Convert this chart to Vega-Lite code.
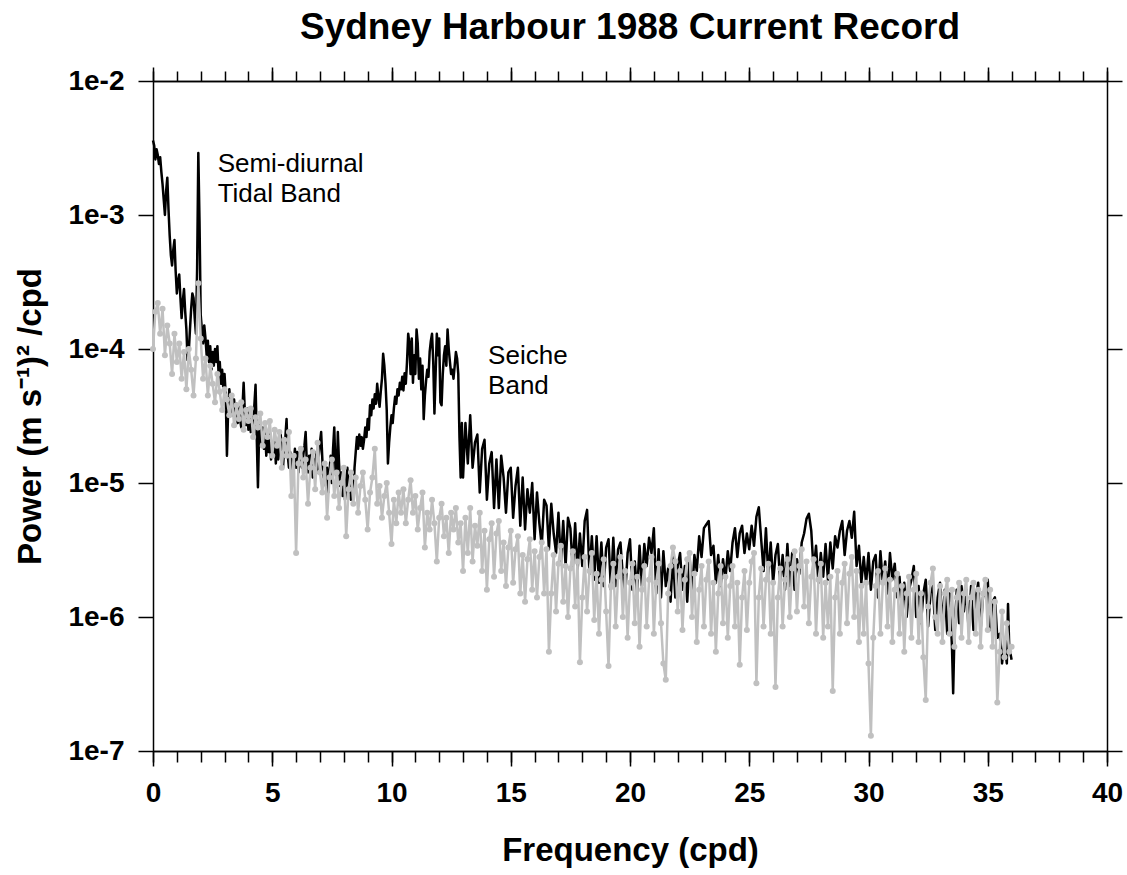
{
  "$schema": "https://vega.github.io/schema/vega-lite/v6.json",
  "width": 954,
  "height": 670,
  "autosize": {"type": "none"},
  "padding": {"left": 153, "top": 81, "right": 20, "bottom": 124},
  "background": "white",
  "title": {
    "text": "Sydney Harbour 1988 Current Record",
    "font": "Liberation Sans",
    "fontSize": 37,
    "fontWeight": "bold",
    "color": "black",
    "anchor": "middle",
    "frame": "group",
    "offset": 19
  },
  "config": {
    "view": {"stroke": null},
    "font": "Liberation Sans",
    "axis": {
      "grid": false,
      "domainColor": "black",
      "domainWidth": 1.5,
      "tickColor": "black",
      "tickWidth": 1.5,
      "labelColor": "black",
      "labelFont": "Liberation Sans",
      "labelFontWeight": "bold",
      "labelFontSize": 28,
      "titleColor": "black",
      "titleFont": "Liberation Sans",
      "titleFontWeight": "bold",
      "titleFontSize": 33,
      "labelFlush": false,
      "labelOverlap": false,
      "labelBound": false
    }
  },
  "datasets": {
    "spectrum": [
      {"f":0.0,"p":3.6e-3},{"f":0.05,"p":3.3e-3},{"f":0.1,"p":2.6e-3},{"f":0.15,"p":3.1e-3},{"f":0.2,"p":2.8e-3},
      {"f":0.25,"p":2.4e-3},{"f":0.3,"p":2.7e-3},{"f":0.35,"p":2.1e-3},{"f":0.4,"p":1.7e-3},{"f":0.45,"p":1.3e-3},
      {"f":0.5,"p":1.0e-3},{"f":0.55,"p":1.5e-3},{"f":0.6,"p":1.9e-3},{"f":0.65,"p":1.1e-3},{"f":0.7,"p":7.0e-4},
      {"f":0.75,"p":5.0e-4},{"f":0.8,"p":4.2e-4},{"f":0.85,"p":5.5e-4},{"f":0.9,"p":6.5e-4},{"f":0.95,"p":3.8e-4},
      {"f":1.0,"p":2.6e-4},{"f":1.05,"p":3.2e-4},{"f":1.1,"p":3.6e-4},{"f":1.15,"p":2.4e-4},{"f":1.2,"p":1.7e-4},
      {"f":1.25,"p":2.3e-4},{"f":1.3,"p":2.8e-4},{"f":1.35,"p":1.9e-4},{"f":1.4,"p":1.4e-4},{"f":1.45,"p":8.3e-5},
      {"f":1.5,"p":9.5e-5},{"f":1.55,"p":1.4e-4},{"f":1.6,"p":2.0e-4},{"f":1.65,"p":2.6e-4},{"f":1.7,"p":2.4e-4},
      {"f":1.75,"p":1.7e-4},{"f":1.8,"p":1.3e-4},{"f":1.85,"p":4.0e-4},{"f":1.9,"p":2.9e-3},{"f":1.95,"p":9.0e-4},
      {"f":2.0,"p":1.8e-4},{"f":2.05,"p":1.4e-4},{"f":2.1,"p":1.1e-4},{"f":2.15,"p":1.5e-4},{"f":2.2,"p":1.2e-4},
      {"f":2.25,"p":9.0e-5},{"f":2.3,"p":1.15e-4},{"f":2.35,"p":8.0e-5},{"f":2.4,"p":1.05e-4},{"f":2.45,"p":7.0e-5},
      {"f":2.5,"p":9.5e-5},{"f":2.55,"p":7.5e-5},{"f":2.6,"p":1.0e-4},{"f":2.65,"p":8.0e-5},{"f":2.7,"p":1.05e-4},
      {"f":2.75,"p":6.5e-5},{"f":2.8,"p":8.0e-5},{"f":2.85,"p":5.5e-5},{"f":2.9,"p":7.0e-5},{"f":2.95,"p":5.0e-5},
      {"f":3.0,"p":6.5e-5},{"f":3.05,"p":4.5e-5},{"f":3.1,"p":1.6e-5},{"f":3.15,"p":3.5e-5},{"f":3.2,"p":5.0e-5},
      {"f":3.25,"p":3.8e-5},{"f":3.3,"p":4.6e-5},{"f":3.35,"p":3.2e-5},{"f":3.4,"p":4.2e-5},{"f":3.45,"p":3.0e-5},
      {"f":3.5,"p":3.9e-5},{"f":3.55,"p":2.8e-5},{"f":3.6,"p":3.7e-5},{"f":3.65,"p":3.0e-5},{"f":3.7,"p":2.6e-5},
      {"f":3.75,"p":3.6e-5},{"f":3.8,"p":5.6e-5},{"f":3.85,"p":3.4e-5},{"f":3.9,"p":2.7e-5},{"f":3.95,"p":3.6e-5},
      {"f":4.0,"p":2.5e-5},{"f":4.05,"p":3.3e-5},{"f":4.1,"p":2.4e-5},{"f":4.15,"p":3.1e-5},{"f":4.2,"p":2.6e-5},
      {"f":4.25,"p":3.8e-5},{"f":4.3,"p":5.4e-5},{"f":4.35,"p":2.2e-5},{"f":4.4,"p":9.3e-6},{"f":4.45,"p":2.4e-5},
      {"f":4.5,"p":2.9e-5},{"f":4.55,"p":2.0e-5},{"f":4.6,"p":2.6e-5},{"f":4.65,"p":1.8e-5},{"f":4.7,"p":2.4e-5},
      {"f":4.75,"p":1.6e-5},{"f":4.8,"p":2.2e-5},{"f":4.85,"p":1.7e-5},{"f":4.9,"p":2.3e-5},{"f":4.95,"p":1.5e-5},
      {"f":5.0,"p":2.0e-5},{"f":5.05,"p":1.6e-5},{"f":5.1,"p":2.2e-5},{"f":5.15,"p":1.4e-5},{"f":5.2,"p":1.9e-5},
      {"f":5.25,"p":1.5e-5},{"f":5.3,"p":1.8e-5},{"f":5.35,"p":2.4e-5},{"f":5.4,"p":1.6e-5},{"f":5.45,"p":1.3e-5},
      {"f":5.5,"p":1.8e-5},{"f":5.55,"p":2.2e-5},{"f":5.6,"p":3.0e-5},{"f":5.65,"p":1.6e-5},{"f":5.7,"p":1.3e-5},
      {"f":5.75,"p":1.7e-5},{"f":5.8,"p":1.2e-5},{"f":5.85,"p":1.6e-5},{"f":5.9,"p":1.4e-5},{"f":5.95,"p":1.8e-5},
      {"f":6.0,"p":1.3e-5},{"f":6.05,"p":1.7e-5},{"f":6.1,"p":1.2e-5},{"f":6.15,"p":1.5e-5},{"f":6.2,"p":1.7e-5},
      {"f":6.25,"p":1.3e-5},{"f":6.3,"p":1.6e-5},{"f":6.35,"p":1.9e-5},{"f":6.4,"p":2.4e-5},{"f":6.45,"p":1.4e-5},
      {"f":6.5,"p":1.2e-5},{"f":6.55,"p":1.6e-5},{"f":6.6,"p":1.3e-5},{"f":6.65,"p":1.8e-5},{"f":6.7,"p":1.1e-5},
      {"f":6.75,"p":1.5e-5},{"f":6.8,"p":1.3e-5},{"f":6.85,"p":1.7e-5},{"f":6.9,"p":1.2e-5},{"f":6.95,"p":1.6e-5},
      {"f":7.0,"p":2.0e-5},{"f":7.05,"p":2.4e-5},{"f":7.1,"p":1.5e-5},{"f":7.15,"p":1.1e-5},{"f":7.2,"p":1.4e-5},
      {"f":7.25,"p":9.5e-6},{"f":7.3,"p":1.3e-5},{"f":7.35,"p":8.5e-6},{"f":7.4,"p":1.2e-5},{"f":7.45,"p":1.6e-5},
      {"f":7.5,"p":1.0e-5},{"f":7.55,"p":1.8e-5},{"f":7.6,"p":2.6e-5},{"f":7.65,"p":1.3e-5},{"f":7.7,"p":1.0e-5},
      {"f":7.75,"p":2.4e-5},{"f":7.8,"p":1.4e-5},{"f":7.85,"p":9.5e-6},{"f":7.9,"p":1.2e-5},{"f":7.95,"p":8.0e-6},
      {"f":8.0,"p":1.1e-5},{"f":8.05,"p":7.5e-6},{"f":8.1,"p":1.0e-5},{"f":8.15,"p":1.3e-5},{"f":8.2,"p":8.5e-6},
      {"f":8.25,"p":1.1e-5},{"f":8.3,"p":7.5e-6},{"f":8.35,"p":1.0e-5},{"f":8.4,"p":8.0e-6},{"f":8.45,"p":1.3e-5},
      {"f":8.5,"p":1.7e-5},{"f":8.55,"p":2.2e-5},{"f":8.6,"p":1.8e-5},{"f":8.65,"p":2.3e-5},{"f":8.7,"p":1.9e-5},
      {"f":8.75,"p":2.2e-5},{"f":8.8,"p":1.8e-5},{"f":8.85,"p":2.1e-5},{"f":8.9,"p":2.6e-5},{"f":8.95,"p":2.2e-5},
      {"f":9.0,"p":3.0e-5},{"f":9.05,"p":2.5e-5},{"f":9.1,"p":3.8e-5},{"f":9.15,"p":3.2e-5},{"f":9.2,"p":4.2e-5},
      {"f":9.25,"p":3.6e-5},{"f":9.3,"p":4.6e-5},{"f":9.35,"p":3.9e-5},{"f":9.4,"p":5.5e-5},{"f":9.45,"p":4.4e-5},
      {"f":9.5,"p":3.7e-5},{"f":9.55,"p":4.8e-5},{"f":9.6,"p":6.0e-5},{"f":9.65,"p":9.2e-5},{"f":9.7,"p":7.5e-5},
      {"f":9.75,"p":5.5e-5},{"f":9.8,"p":3.5e-5},{"f":9.85,"p":1.4e-5},{"f":9.9,"p":2.0e-5},{"f":9.95,"p":2.6e-5},
      {"f":10.0,"p":3.2e-5},{"f":10.05,"p":2.8e-5},{"f":10.1,"p":3.6e-5},{"f":10.15,"p":4.4e-5},{"f":10.2,"p":3.9e-5},
      {"f":10.25,"p":5.0e-5},{"f":10.3,"p":4.5e-5},{"f":10.35,"p":5.6e-5},{"f":10.4,"p":5.0e-5},{"f":10.45,"p":6.2e-5},
      {"f":10.5,"p":4.9e-5},{"f":10.55,"p":6.6e-5},{"f":10.6,"p":5.5e-5},{"f":10.65,"p":8.0e-5},{"f":10.7,"p":1.3e-4},
      {"f":10.75,"p":1.1e-4},{"f":10.8,"p":6.5e-5},{"f":10.85,"p":1.2e-4},{"f":10.9,"p":5.6e-5},{"f":10.95,"p":9.0e-5},
      {"f":11.0,"p":6.5e-5},{"f":11.05,"p":1.4e-4},{"f":11.1,"p":1.1e-4},{"f":11.15,"p":6.0e-5},{"f":11.2,"p":8.5e-5},
      {"f":11.25,"p":5.0e-5},{"f":11.3,"p":7.5e-5},{"f":11.35,"p":3.0e-5},{"f":11.4,"p":4.5e-5},{"f":11.45,"p":5.8e-5},
      {"f":11.5,"p":7.0e-5},{"f":11.55,"p":6.2e-5},{"f":11.6,"p":9.5e-5},{"f":11.65,"p":1.15e-4},{"f":11.7,"p":1.3e-4},
      {"f":11.75,"p":8.0e-5},{"f":11.8,"p":3.3e-5},{"f":11.85,"p":6.5e-5},{"f":11.9,"p":1.3e-4},{"f":11.95,"p":9.0e-5},
      {"f":12.0,"p":1.2e-4},{"f":12.05,"p":4.0e-5},{"f":12.1,"p":3.8e-5},{"f":12.15,"p":6.5e-5},{"f":12.2,"p":9.0e-5},
      {"f":12.25,"p":1.05e-4},{"f":12.3,"p":7.5e-5},{"f":12.35,"p":1.4e-4},{"f":12.4,"p":1.0e-4},{"f":12.45,"p":8.0e-5},
      {"f":12.5,"p":6.5e-5},{"f":12.55,"p":7.0e-5},{"f":12.6,"p":6.0e-5},{"f":12.65,"p":7.5e-5},{"f":12.7,"p":9.5e-5},
      {"f":12.75,"p":8.5e-5},{"f":12.8,"p":6.5e-5},{"f":12.85,"p":2.2e-5},{"f":12.9,"p":1.1e-5},{"f":12.95,"p":2.8e-5},
      {"f":13.0,"p":1.1e-5},{"f":13.1,"p":2.8e-5},{"f":13.2,"p":1.4e-5},{"f":13.3,"p":3.2e-5},{"f":13.4,"p":1.3e-5},
      {"f":13.5,"p":2.0e-5},{"f":13.6,"p":2.3e-5},{"f":13.7,"p":8.5e-6},{"f":13.8,"p":1.8e-5},{"f":13.9,"p":2.1e-5},
      {"f":14.0,"p":7.5e-6},{"f":14.1,"p":1.4e-5},{"f":14.2,"p":1.7e-5},{"f":14.3,"p":6.5e-6},{"f":14.4,"p":1.5e-5},
      {"f":14.5,"p":6.5e-6},{"f":14.6,"p":1.6e-5},{"f":14.7,"p":1.1e-5},{"f":14.8,"p":6.0e-6},{"f":14.9,"p":1.2e-5},
      {"f":15.0,"p":1.3e-5},{"f":15.1,"p":5.5e-6},{"f":15.2,"p":9.5e-6},{"f":15.3,"p":1.3e-5},{"f":15.4,"p":4.8e-6},
      {"f":15.5,"p":1.1e-5},{"f":15.6,"p":4.5e-6},{"f":15.7,"p":9.0e-6},{"f":15.8,"p":6.0e-6},{"f":15.9,"p":1.0e-5},
      {"f":16.0,"p":3.8e-6},{"f":16.1,"p":8.5e-6},{"f":16.2,"p":5.0e-6},{"f":16.3,"p":3.4e-6},{"f":16.4,"p":7.5e-6},
      {"f":16.5,"p":6.8e-6},{"f":16.6,"p":3.2e-6},{"f":16.7,"p":7.0e-6},{"f":16.8,"p":4.2e-6},{"f":16.9,"p":3.0e-6},
      {"f":17.0,"p":6.0e-6},{"f":17.1,"p":2.5e-6},{"f":17.2,"p":5.2e-6},{"f":17.3,"p":2.4e-6},{"f":17.4,"p":5.5e-6},
      {"f":17.5,"p":4.6e-6},{"f":17.6,"p":2.3e-6},{"f":17.7,"p":5.0e-6},{"f":17.8,"p":2.2e-6},{"f":17.9,"p":4.2e-6},
      {"f":18.0,"p":2.4e-6},{"f":18.1,"p":5.2e-6},{"f":18.2,"p":6.3e-6},{"f":18.3,"p":2.1e-6},{"f":18.4,"p":4.0e-6},
      {"f":18.5,"p":1.9e-6},{"f":18.6,"p":4.0e-6},{"f":18.7,"p":1.8e-6},{"f":18.8,"p":3.6e-6},{"f":18.9,"p":1.7e-6},
      {"f":19.0,"p":3.3e-6},{"f":19.1,"p":3.8e-6},{"f":19.2,"p":1.6e-6},{"f":19.3,"p":3.9e-6},{"f":19.4,"p":1.7e-6},
      {"f":19.5,"p":3.2e-6},{"f":19.6,"p":3.6e-6},{"f":19.7,"p":2.0e-6},{"f":19.8,"p":1.5e-6},{"f":19.9,"p":3.0e-6},
      {"f":20.0,"p":3.8e-6},{"f":20.1,"p":1.6e-6},{"f":20.2,"p":2.6e-6},{"f":20.3,"p":1.5e-6},{"f":20.4,"p":3.4e-6},
      {"f":20.5,"p":1.7e-6},{"f":20.6,"p":3.5e-6},{"f":20.7,"p":2.4e-6},{"f":20.8,"p":3.9e-6},{"f":20.9,"p":3.0e-6},
      {"f":21.0,"p":4.6e-6},{"f":21.1,"p":1.5e-6},{"f":21.2,"p":3.2e-6},{"f":21.3,"p":1.4e-6},{"f":21.4,"p":3.1e-6},
      {"f":21.5,"p":1.7e-6},{"f":21.6,"p":2.3e-6},{"f":21.7,"p":1.3e-6},{"f":21.8,"p":2.9e-6},{"f":21.9,"p":1.4e-6},
      {"f":22.0,"p":2.4e-6},{"f":22.1,"p":3.0e-6},{"f":22.2,"p":1.6e-6},{"f":22.3,"p":2.4e-6},{"f":22.4,"p":1.3e-6},
      {"f":22.5,"p":2.8e-6},{"f":22.6,"p":1.4e-6},{"f":22.7,"p":2.9e-6},{"f":22.8,"p":2.2e-6},{"f":22.9,"p":4.0e-6},
      {"f":23.0,"p":2.8e-6},{"f":23.1,"p":4.6e-6},{"f":23.2,"p":4.9e-6},{"f":23.3,"p":5.2e-6},{"f":23.4,"p":2.9e-6},
      {"f":23.5,"p":3.4e-6},{"f":23.6,"p":1.8e-6},{"f":23.7,"p":2.9e-6},{"f":23.8,"p":1.7e-6},{"f":23.9,"p":2.7e-6},
      {"f":24.0,"p":1.9e-6},{"f":24.1,"p":3.1e-6},{"f":24.2,"p":2.2e-6},{"f":24.3,"p":3.6e-6},{"f":24.4,"p":4.6e-6},
      {"f":24.5,"p":2.8e-6},{"f":24.6,"p":4.2e-6},{"f":24.7,"p":4.8e-6},{"f":24.8,"p":3.0e-6},{"f":24.9,"p":4.2e-6},
      {"f":25.0,"p":3.2e-6},{"f":25.1,"p":4.8e-6},{"f":25.2,"p":3.4e-6},{"f":25.3,"p":5.6e-6},{"f":25.4,"p":6.6e-6},
      {"f":25.5,"p":3.8e-6},{"f":25.6,"p":2.2e-6},{"f":25.7,"p":4.6e-6},{"f":25.8,"p":2.0e-6},{"f":25.9,"p":3.6e-6},
      {"f":26.0,"p":1.8e-6},{"f":26.1,"p":2.9e-6},{"f":26.2,"p":3.5e-6},{"f":26.3,"p":1.8e-6},{"f":26.4,"p":2.9e-6},
      {"f":26.5,"p":1.6e-6},{"f":26.6,"p":3.5e-6},{"f":26.7,"p":1.7e-6},{"f":26.8,"p":3.0e-6},{"f":26.9,"p":1.6e-6},
      {"f":27.0,"p":2.7e-6},{"f":27.1,"p":2.1e-6},{"f":27.2,"p":3.6e-6},{"f":27.3,"p":4.2e-6},{"f":27.4,"p":5.4e-6},
      {"f":27.5,"p":5.9e-6},{"f":27.6,"p":4.4e-6},{"f":27.7,"p":2.2e-6},{"f":27.8,"p":3.4e-6},{"f":27.9,"p":1.8e-6},
      {"f":28.0,"p":3.0e-6},{"f":28.1,"p":2.0e-6},{"f":28.2,"p":3.5e-6},{"f":28.3,"p":1.9e-6},{"f":28.4,"p":3.6e-6},
      {"f":28.5,"p":2.3e-6},{"f":28.6,"p":4.0e-6},{"f":28.7,"p":3.3e-6},{"f":28.8,"p":4.4e-6},{"f":28.9,"p":5.2e-6},
      {"f":29.0,"p":2.9e-6},{"f":29.1,"p":4.4e-6},{"f":29.2,"p":5.2e-6},{"f":29.3,"p":3.9e-6},{"f":29.4,"p":6.1e-6},
      {"f":29.5,"p":2.4e-6},{"f":29.6,"p":3.4e-6},{"f":29.7,"p":1.8e-6},{"f":29.8,"p":2.8e-6},{"f":29.9,"p":1.8e-6},
      {"f":30.0,"p":3.0e-6},{"f":30.1,"p":1.6e-6},{"f":30.2,"p":2.6e-6},{"f":30.3,"p":2.9e-6},{"f":30.4,"p":1.4e-6},
      {"f":30.5,"p":3.1e-6},{"f":30.6,"p":1.8e-6},{"f":30.7,"p":2.6e-6},{"f":30.8,"p":1.5e-6},{"f":30.9,"p":3.0e-6},
      {"f":31.0,"p":1.9e-6},{"f":31.1,"p":2.5e-6},{"f":31.2,"p":1.4e-6},{"f":31.3,"p":2.0e-6},{"f":31.4,"p":1.1e-6},
      {"f":31.5,"p":1.8e-6},{"f":31.6,"p":1.0e-6},{"f":31.7,"p":1.6e-6},{"f":31.8,"p":1.9e-6},{"f":31.9,"p":2.4e-6},
      {"f":32.0,"p":1.0e-6},{"f":32.1,"p":1.7e-6},{"f":32.2,"p":9.0e-7},{"f":32.3,"p":1.5e-6},{"f":32.4,"p":1.9e-6},
      {"f":32.5,"p":8.5e-7},{"f":32.6,"p":1.5e-6},{"f":32.7,"p":1.7e-6},{"f":32.8,"p":8.0e-7},{"f":32.9,"p":1.4e-6},
      {"f":33.0,"p":1.8e-6},{"f":33.1,"p":8.5e-7},{"f":33.2,"p":1.6e-6},{"f":33.3,"p":7.5e-7},{"f":33.4,"p":1.5e-6},
      {"f":33.5,"p":6.0e-7},{"f":33.55,"p":2.7e-7},{"f":33.6,"p":7.0e-7},{"f":33.7,"p":1.6e-6},{"f":33.8,"p":9.0e-7},
      {"f":33.9,"p":1.7e-6},{"f":34.0,"p":1.1e-6},{"f":34.1,"p":1.6e-6},{"f":34.2,"p":8.0e-7},{"f":34.3,"p":1.7e-6},
      {"f":34.4,"p":8.0e-7},{"f":34.5,"p":1.4e-6},{"f":34.6,"p":1.8e-6},{"f":34.7,"p":8.0e-7},{"f":34.8,"p":1.4e-6},
      {"f":34.9,"p":1.7e-6},{"f":35.0,"p":1.9e-6},{"f":35.1,"p":8.0e-7},{"f":35.2,"p":1.3e-6},{"f":35.3,"p":1.4e-6},
      {"f":35.4,"p":7.0e-7},{"f":35.5,"p":7.5e-7},{"f":35.6,"p":4.5e-7},{"f":35.7,"p":6.5e-7},{"f":35.8,"p":4.5e-7},
      {"f":35.85,"p":1.25e-6},{"f":35.9,"p":6.0e-7},{"f":36.0,"p":4.8e-7}
    ],
    "background": [
      {"f":0.0,"p":1.0e-4},{"f":0.1,"p":1.9e-4},{"f":0.2,"p":2.2e-4},{"f":0.3,"p":1.3e-4},{"f":0.4,"p":2.0e-4},
      {"f":0.5,"p":9.0e-5},{"f":0.6,"p":1.5e-4},{"f":0.7,"p":1.1e-4},{"f":0.8,"p":6.5e-5},{"f":0.9,"p":1.3e-4},
      {"f":1.0,"p":8.0e-5},{"f":1.1,"p":1.1e-4},{"f":1.2,"p":6.0e-5},{"f":1.3,"p":9.5e-5},{"f":1.4,"p":5.0e-5},
      {"f":1.5,"p":1.0e-4},{"f":1.6,"p":7.0e-5},{"f":1.7,"p":4.5e-5},{"f":1.8,"p":8.5e-5},{"f":1.9,"p":3.1e-4},
      {"f":2.0,"p":1.2e-4},{"f":2.1,"p":6.0e-5},{"f":2.2,"p":8.5e-5},{"f":2.3,"p":4.5e-5},{"f":2.4,"p":7.5e-5},
      {"f":2.5,"p":5.5e-5},{"f":2.6,"p":4.0e-5},{"f":2.7,"p":6.5e-5},{"f":2.8,"p":4.8e-5},{"f":2.9,"p":3.5e-5},
      {"f":3.0,"p":5.0e-5},{"f":3.1,"p":4.2e-5},{"f":3.2,"p":3.2e-5},{"f":3.3,"p":4.5e-5},{"f":3.4,"p":2.7e-5},
      {"f":3.5,"p":3.8e-5},{"f":3.6,"p":3.0e-5},{"f":3.7,"p":4.0e-5},{"f":3.8,"p":2.5e-5},{"f":3.9,"p":3.5e-5},
      {"f":4.0,"p":2.9e-5},{"f":4.1,"p":3.6e-5},{"f":4.2,"p":2.2e-5},{"f":4.3,"p":3.1e-5},{"f":4.4,"p":2.6e-5},
      {"f":4.5,"p":3.3e-5},{"f":4.6,"p":1.9e-5},{"f":4.7,"p":2.8e-5},{"f":4.8,"p":2.2e-5},{"f":4.9,"p":2.9e-5},
      {"f":5.0,"p":1.6e-5},{"f":5.1,"p":2.5e-5},{"f":5.2,"p":1.9e-5},{"f":5.3,"p":2.4e-5},{"f":5.4,"p":1.3e-5},
      {"f":5.5,"p":2.1e-5},{"f":5.6,"p":1.6e-5},{"f":5.7,"p":2.4e-5},{"f":5.8,"p":8.0e-6},{"f":5.9,"p":1.6e-5},
      {"f":6.0,"p":3.0e-6},{"f":6.1,"p":1.4e-5},{"f":6.2,"p":1.8e-5},{"f":6.3,"p":1.1e-5},{"f":6.4,"p":1.5e-5},
      {"f":6.5,"p":7.0e-6},{"f":6.6,"p":1.3e-5},{"f":6.7,"p":1.7e-5},{"f":6.8,"p":9.0e-6},{"f":6.9,"p":2.0e-5},
      {"f":7.0,"p":1.2e-5},{"f":7.1,"p":8.5e-6},{"f":7.2,"p":1.4e-5},{"f":7.3,"p":5.5e-6},{"f":7.4,"p":1.1e-5},
      {"f":7.5,"p":1.5e-5},{"f":7.6,"p":8.0e-6},{"f":7.7,"p":1.2e-5},{"f":7.8,"p":6.5e-6},{"f":7.9,"p":1.0e-5},
      {"f":8.0,"p":1.3e-5},{"f":8.1,"p":4.0e-6},{"f":8.2,"p":9.0e-6},{"f":8.3,"p":1.2e-5},{"f":8.4,"p":7.0e-6},
      {"f":8.5,"p":1.1e-5},{"f":8.6,"p":6.0e-6},{"f":8.7,"p":9.5e-6},{"f":8.8,"p":1.2e-5},{"f":8.9,"p":7.5e-6},
      {"f":9.0,"p":4.5e-6},{"f":9.1,"p":8.5e-6},{"f":9.2,"p":1.1e-5},{"f":9.3,"p":1.8e-5},{"f":9.4,"p":7.0e-6},
      {"f":9.5,"p":9.5e-6},{"f":9.6,"p":5.5e-6},{"f":9.7,"p":8.0e-6},{"f":9.8,"p":1.0e-5},{"f":9.9,"p":6.0e-6},
      {"f":10.0,"p":3.5e-6},{"f":10.1,"p":7.5e-6},{"f":10.2,"p":5.0e-6},{"f":10.3,"p":8.5e-6},{"f":10.4,"p":6.0e-6},
      {"f":10.5,"p":9.0e-6},{"f":10.6,"p":5.0e-6},{"f":10.7,"p":7.5e-6},{"f":10.8,"p":1.05e-5},{"f":10.9,"p":6.0e-6},
      {"f":11.0,"p":8.0e-6},{"f":11.1,"p":4.5e-6},{"f":11.2,"p":6.5e-6},{"f":11.3,"p":8.5e-6},{"f":11.4,"p":3.3e-6},
      {"f":11.5,"p":6.0e-6},{"f":11.6,"p":4.5e-6},{"f":11.7,"p":7.5e-6},{"f":11.8,"p":5.0e-6},{"f":11.9,"p":2.6e-6},
      {"f":12.0,"p":5.5e-6},{"f":12.1,"p":7.0e-6},{"f":12.2,"p":4.0e-6},{"f":12.3,"p":5.5e-6},{"f":12.4,"p":3.0e-6},
      {"f":12.5,"p":6.0e-6},{"f":12.6,"p":4.5e-6},{"f":12.7,"p":6.5e-6},{"f":12.8,"p":3.6e-6},{"f":12.9,"p":5.0e-6},
      {"f":13.0,"p":2.2e-6},{"f":13.1,"p":5.5e-6},{"f":13.2,"p":3.0e-6},{"f":13.3,"p":6.5e-6},{"f":13.4,"p":2.6e-6},
      {"f":13.5,"p":4.8e-6},{"f":13.6,"p":3.4e-6},{"f":13.7,"p":6.0e-6},{"f":13.8,"p":2.2e-6},{"f":13.9,"p":4.4e-6},
      {"f":14.0,"p":1.6e-6},{"f":14.1,"p":3.8e-6},{"f":14.2,"p":5.0e-6},{"f":14.3,"p":2.0e-6},{"f":14.4,"p":4.2e-6},
      {"f":14.5,"p":5.2e-6},{"f":14.6,"p":2.2e-6},{"f":14.7,"p":3.6e-6},{"f":14.8,"p":1.7e-6},{"f":14.9,"p":3.3e-6},
      {"f":15.0,"p":4.4e-6},{"f":15.1,"p":1.8e-6},{"f":15.2,"p":3.2e-6},{"f":15.3,"p":4.0e-6},{"f":15.4,"p":1.5e-6},
      {"f":15.5,"p":2.9e-6},{"f":15.6,"p":1.3e-6},{"f":15.7,"p":2.7e-6},{"f":15.8,"p":3.8e-6},{"f":15.9,"p":1.6e-6},
      {"f":16.0,"p":3.1e-6},{"f":16.1,"p":1.4e-6},{"f":16.2,"p":2.8e-6},{"f":16.3,"p":3.6e-6},{"f":16.4,"p":1.5e-6},
      {"f":16.5,"p":3.2e-6},{"f":16.6,"p":5.5e-7},{"f":16.7,"p":1.5e-6},{"f":16.8,"p":2.9e-6},{"f":16.9,"p":1.1e-6},
      {"f":17.0,"p":2.5e-6},{"f":17.1,"p":3.4e-6},{"f":17.2,"p":1.3e-6},{"f":17.3,"p":2.4e-6},{"f":17.4,"p":1.0e-6},
      {"f":17.5,"p":2.3e-6},{"f":17.6,"p":3.1e-6},{"f":17.7,"p":1.2e-6},{"f":17.8,"p":2.6e-6},{"f":17.9,"p":4.6e-7},
      {"f":18.0,"p":1.4e-6},{"f":18.1,"p":2.8e-6},{"f":18.2,"p":1.1e-6},{"f":18.3,"p":2.2e-6},{"f":18.4,"p":3.0e-6},
      {"f":18.5,"p":9.5e-7},{"f":18.6,"p":2.1e-6},{"f":18.7,"p":7.5e-7},{"f":18.8,"p":1.9e-6},{"f":18.9,"p":2.7e-6},
      {"f":19.0,"p":1.1e-6},{"f":19.1,"p":4.3e-7},{"f":19.2,"p":1.7e-6},{"f":19.3,"p":2.5e-6},{"f":19.4,"p":8.5e-7},
      {"f":19.5,"p":2.0e-6},{"f":19.6,"p":2.8e-6},{"f":19.7,"p":1.0e-6},{"f":19.8,"p":2.2e-6},{"f":19.9,"p":7.0e-7},
      {"f":20.0,"p":1.8e-6},{"f":20.1,"p":2.5e-6},{"f":20.2,"p":9.0e-7},{"f":20.3,"p":2.0e-6},{"f":20.4,"p":6.0e-7},
      {"f":20.5,"p":1.6e-6},{"f":20.6,"p":2.4e-6},{"f":20.7,"p":8.5e-7},{"f":20.8,"p":1.9e-6},{"f":20.9,"p":2.8e-6},
      {"f":21.0,"p":7.5e-7},{"f":21.1,"p":1.8e-6},{"f":21.2,"p":2.5e-6},{"f":21.3,"p":9.0e-7},{"f":21.4,"p":4.5e-7},
      {"f":21.5,"p":3.4e-7},{"f":21.6,"p":1.5e-6},{"f":21.7,"p":2.4e-6},{"f":21.8,"p":3.3e-6},{"f":21.9,"p":2.6e-6},
      {"f":22.0,"p":1.1e-6},{"f":22.1,"p":2.2e-6},{"f":22.2,"p":8.0e-7},{"f":22.3,"p":1.9e-6},{"f":22.4,"p":2.7e-6},
      {"f":22.5,"p":3.0e-6},{"f":22.6,"p":1.0e-6},{"f":22.7,"p":2.1e-6},{"f":22.8,"p":6.5e-7},{"f":22.9,"p":1.6e-6},
      {"f":23.0,"p":2.4e-6},{"f":23.1,"p":8.5e-7},{"f":23.2,"p":1.9e-6},{"f":23.3,"p":2.6e-6},{"f":23.4,"p":7.5e-7},
      {"f":23.5,"p":1.8e-6},{"f":23.6,"p":5.5e-7},{"f":23.7,"p":1.5e-6},{"f":23.8,"p":2.4e-6},{"f":23.9,"p":9.0e-7},
      {"f":24.0,"p":2.0e-6},{"f":24.1,"p":7.0e-7},{"f":24.2,"p":1.7e-6},{"f":24.3,"p":2.4e-6},{"f":24.4,"p":8.5e-7},
      {"f":24.5,"p":1.8e-6},{"f":24.6,"p":4.4e-7},{"f":24.7,"p":1.4e-6},{"f":24.8,"p":2.2e-6},{"f":24.9,"p":8.0e-7},
      {"f":25.0,"p":1.8e-6},{"f":25.1,"p":2.6e-6},{"f":25.2,"p":3.0e-6},{"f":25.3,"p":3.2e-7},{"f":25.4,"p":1.4e-6},
      {"f":25.5,"p":2.3e-6},{"f":25.6,"p":8.5e-7},{"f":25.7,"p":1.9e-6},{"f":25.8,"p":2.5e-6},{"f":25.9,"p":7.5e-7},
      {"f":26.0,"p":1.8e-6},{"f":26.1,"p":3.0e-7},{"f":26.2,"p":1.4e-6},{"f":26.3,"p":2.3e-6},{"f":26.4,"p":8.5e-7},
      {"f":26.5,"p":1.9e-6},{"f":26.6,"p":2.7e-6},{"f":26.7,"p":1.0e-6},{"f":26.8,"p":2.3e-6},{"f":26.9,"p":3.1e-6},
      {"f":27.0,"p":1.1e-6},{"f":27.1,"p":2.4e-6},{"f":27.2,"p":3.2e-6},{"f":27.3,"p":1.2e-6},{"f":27.4,"p":2.6e-6},
      {"f":27.5,"p":9.0e-7},{"f":27.6,"p":2.0e-6},{"f":27.7,"p":2.7e-6},{"f":27.8,"p":7.5e-7},{"f":27.9,"p":1.9e-6},
      {"f":28.0,"p":2.5e-6},{"f":28.1,"p":7.0e-7},{"f":28.2,"p":1.8e-6},{"f":28.3,"p":8.5e-7},{"f":28.4,"p":2.0e-6},
      {"f":28.5,"p":2.8e-7},{"f":28.6,"p":1.4e-6},{"f":28.7,"p":2.2e-6},{"f":28.8,"p":7.5e-7},{"f":28.9,"p":1.8e-6},
      {"f":29.0,"p":2.5e-6},{"f":29.1,"p":9.0e-7},{"f":29.2,"p":2.1e-6},{"f":29.3,"p":2.8e-6},{"f":29.4,"p":1.0e-6},
      {"f":29.5,"p":2.2e-6},{"f":29.6,"p":6.5e-7},{"f":29.7,"p":1.7e-6},{"f":29.8,"p":7.5e-7},{"f":29.9,"p":1.8e-6},
      {"f":30.0,"p":4.5e-7},{"f":30.1,"p":1.3e-7},{"f":30.2,"p":7.0e-7},{"f":30.3,"p":1.7e-6},{"f":30.4,"p":2.2e-6},
      {"f":30.5,"p":7.5e-7},{"f":30.6,"p":1.8e-6},{"f":30.7,"p":2.3e-6},{"f":30.8,"p":8.5e-7},{"f":30.9,"p":1.9e-6},
      {"f":31.0,"p":6.5e-7},{"f":31.1,"p":1.6e-6},{"f":31.2,"p":2.1e-6},{"f":31.3,"p":7.5e-7},{"f":31.4,"p":1.7e-6},
      {"f":31.5,"p":5.5e-7},{"f":31.6,"p":1.5e-6},{"f":31.7,"p":2.0e-6},{"f":31.8,"p":7.0e-7},{"f":31.9,"p":1.6e-6},
      {"f":32.0,"p":2.1e-6},{"f":32.1,"p":6.5e-7},{"f":32.2,"p":1.5e-6},{"f":32.3,"p":5.0e-7},{"f":32.4,"p":2.4e-7},
      {"f":32.5,"p":1.2e-6},{"f":32.6,"p":1.8e-6},{"f":32.7,"p":2.3e-6},{"f":32.8,"p":1.0e-6},{"f":32.9,"p":7.5e-7},
      {"f":33.0,"p":1.7e-6},{"f":33.1,"p":6.5e-7},{"f":33.2,"p":1.5e-6},{"f":33.3,"p":1.9e-6},{"f":33.4,"p":7.5e-7},
      {"f":33.5,"p":1.6e-6},{"f":33.6,"p":6.0e-7},{"f":33.7,"p":1.4e-6},{"f":33.8,"p":1.8e-6},{"f":33.9,"p":7.0e-7},
      {"f":34.0,"p":1.5e-6},{"f":34.1,"p":1.9e-6},{"f":34.2,"p":6.5e-7},{"f":34.3,"p":1.4e-6},{"f":34.4,"p":1.8e-6},
      {"f":34.5,"p":7.5e-7},{"f":34.6,"p":1.6e-6},{"f":34.7,"p":6.0e-7},{"f":34.8,"p":1.5e-6},{"f":34.9,"p":1.9e-6},
      {"f":35.0,"p":8.0e-7},{"f":35.1,"p":1.6e-6},{"f":35.2,"p":6.0e-7},{"f":35.3,"p":1.3e-6},{"f":35.4,"p":2.3e-7},
      {"f":35.5,"p":5.5e-7},{"f":35.6,"p":1.1e-6},{"f":35.7,"p":5.0e-7},{"f":35.8,"p":9.0e-7},{"f":35.9,"p":5.5e-7},
      {"f":36.0,"p":6.0e-7}
    ],
    "notes": [
      {"f":2.71,"p":2.09e-3,"t":["Semi-diurnal","Tidal Band"]},
      {"f":14.05,"p":7.7e-5,"t":["Seiche","Band"]}
    ]
  },
  "resolve": {"axis": {"x": "independent", "y": "independent"}},
  "layer": [
    {
      "data": {"name": "spectrum"},
      "mark": {"type": "line", "color": "black", "strokeWidth": 2.5, "strokeJoin": "round"},
      "encoding": {
        "x": {
          "field": "f", "type": "quantitative",
          "scale": {"domain": [0, 40], "nice": false, "zero": false},
          "axis": {
            "orient": "bottom",
            "values": [0, 5, 10, 15, 20, 25, 30, 35, 40],
            "tickSize": 15,
            "labelPadding": 13,
            "title": "Frequency (cpd)",
            "titlePadding": 27
          }
        },
        "y": {
          "field": "p", "type": "quantitative",
          "scale": {"type": "log", "domain": [1e-7, 1e-2], "nice": false},
          "axis": {
            "orient": "left",
            "values": [1e-7, 1e-6, 1e-5, 1e-4, 1e-3, 1e-2],
            "tickSize": 15,
            "labelPadding": 14,
            "labelExpr": "'1e' + round(log(datum.value) / LN10)",
            "title": "Power (m s⁻¹)² /cpd",
            "titlePadding": 20
          }
        }
      }
    },
    {
      "data": {"name": "background"},
      "mark": {"type": "line", "color": "#c0c0c0", "strokeWidth": 2.5, "strokeJoin": "round"},
      "encoding": {
        "x": {
          "field": "f", "type": "quantitative",
          "scale": {"domain": [0, 40], "nice": false, "zero": false},
          "axis": {
            "orient": "bottom",
            "values": [0,1,2,3,4,5,6,7,8,9,10,11,12,13,14,15,16,17,18,19,20,21,22,23,24,25,26,27,28,29,30,31,32,33,34,35,36,37,38,39,40],
            "tickSize": 11,
            "labels": false,
            "title": null
          }
        },
        "y": {
          "field": "p", "type": "quantitative",
          "scale": {"type": "log", "domain": [1e-7, 1e-2], "nice": false},
          "axis": {
            "orient": "right",
            "values": [1e-7, 1e-6, 1e-5, 1e-4, 1e-3, 1e-2],
            "tickSize": 15,
            "labels": false,
            "title": null
          }
        }
      }
    },
    {
      "data": {"name": "background"},
      "mark": {"type": "point", "filled": true, "color": "#c0c0c0", "opacity": 1, "size": 36},
      "encoding": {
        "x": {
          "field": "f", "type": "quantitative",
          "scale": {"domain": [0, 40], "nice": false, "zero": false},
          "axis": {
            "orient": "top",
            "values": [0,1,2,3,4,5,6,7,8,9,10,11,12,13,14,15,16,17,18,19,20,21,22,23,24,25,26,27,28,29,30,31,32,33,34,35,36,37,38,39,40],
            "tickSize": 10,
            "labels": false,
            "title": null
          }
        },
        "y": {
          "field": "p", "type": "quantitative",
          "scale": {"type": "log", "domain": [1e-7, 1e-2], "nice": false},
          "axis": null
        }
      }
    },
    {
      "data": {"name": "notes"},
      "mark": {"type": "text", "align": "left", "baseline": "alphabetic", "font": "Liberation Sans", "fontSize": 26, "lineHeight": 30, "color": "black"},
      "encoding": {
        "x": {
          "field": "f", "type": "quantitative",
          "scale": {"domain": [0, 40], "nice": false, "zero": false},
          "axis": {
            "orient": "top",
            "values": [0, 5, 10, 15, 20, 25, 30, 35, 40],
            "tickSize": 14,
            "labels": false,
            "title": null
          }
        },
        "y": {
          "field": "p", "type": "quantitative",
          "scale": {"type": "log", "domain": [1e-7, 1e-2], "nice": false},
          "axis": null
        },
        "text": {"field": "t"}
      }
    }
  ]
}
